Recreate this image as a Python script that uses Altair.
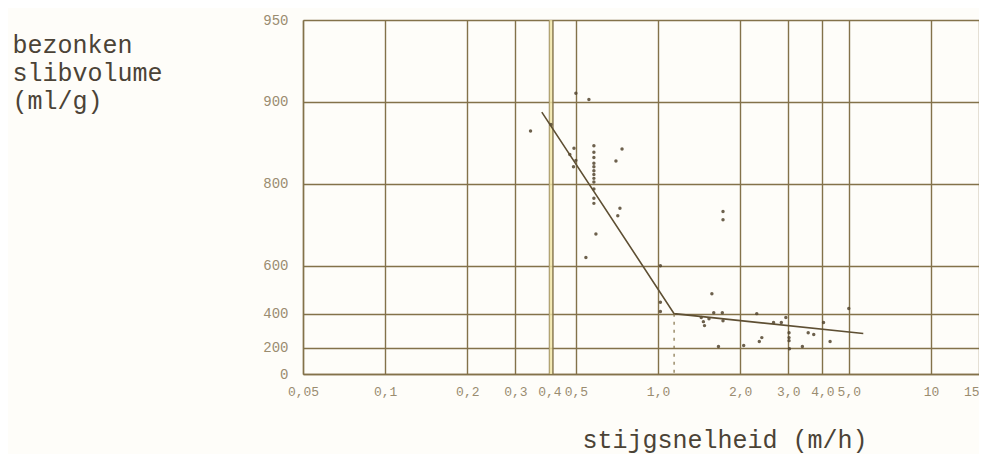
import altair as alt
import pandas as pd

# ---- data ----
x_ticks = [0.05, 0.1, 0.2, 0.3, 0.4, 0.5, 1.0, 2.0, 3.0, 4.0, 5.0, 10.0, 15.0]
x_tick_labels = ["0,05", "0,1", "0,2", "0,3", "0,4", "0,5", "1,0", "2,0", "3,0",
                 "4,0", "5,0", "10", "15"]
y_ticks = [0, 200, 400, 600, 800, 900, 950]

pts_x = [0.50, 0.558, 0.341, 0.405, 0.492, 0.475, 0.50, 0.49,
         0.582, 0.582, 0.582, 0.582, 0.582, 0.582, 0.582, 0.582, 0.582, 0.582, 0.582, 0.582,
         0.738, 0.701, 0.725, 0.712, 0.592, 0.544,
         1.02, 1.02, 1.02, 1.575, 1.44, 1.466, 1.48, 1.537, 1.60, 1.72, 1.73, 1.665,
         2.06, 2.30, 2.35, 2.40, 2.65, 2.83, 2.94, 3.02, 3.02, 3.02, 3.03, 3.38,
         3.55, 3.72, 4.04, 4.27, 5.0, 1.73, 1.73]
pts_v = [907, 902, 872, 879, 852, 844, 836, 827,
         855, 847, 840, 832, 827, 821, 815, 809, 803, 791, 774, 764,
         851, 835, 754, 738, 694, 627,
         600, 455, 411, 493, 380, 358, 336, 374, 405, 405, 363, 207,
         214, 400, 240, 265, 353, 353, 380, 295, 265, 246, 193, 207,
         295, 284, 353, 240, 426, 747, 729]

fit_x = [0.375, 1.145, 5.65]
fit_v = [891, 400, 290]

break_x = [1.145]
break_v_top = [400]
break_v_bottom = [0]

double_line_x = [0.4, 0.412]

# ---- styling ----
INK = "#83724a"
TXT = "#4b4336"
LBL = "#9a8c70"
W, H = 676, 354

label_expr = " : ".join(
    f"datum.value == {v} ? '{l}'" for v, l in zip(x_ticks, x_tick_labels)
) + " : ''"

x_scale = alt.Scale(type="log", domain=[0.05, 15], nice=False)
y_scale = alt.Scale(type="log", domain=[50, 1000], nice=False, reverse=True, zero=False)

x_axis = alt.Axis(
    values=x_ticks, labelExpr=label_expr, grid=True, gridColor=INK, gridWidth=1.4,
    gridOpacity=1, ticks=False, domain=True, domainColor=INK, domainWidth=1.4,
    labelFont="Liberation Mono", labelFontSize=13, labelColor=LBL, labelPadding=11,
    labelFlush=False, labelOverlap=False,
    labelAlign={"condition": {"test": "datum.value >= 15", "value": "right"},
                "value": "center"},
    title="stijgsnelheid (m/h)", titleFont="Liberation Mono", titleFontSize=25,
    titleFontWeight="normal", titleColor=TXT, titleAlign="left", titleAnchor="start",
    titleBaseline="alphabetic", titleX=279, titleY=73,
)
y_axis = alt.Axis(
    values=[1000 - v for v in y_ticks], labelExpr="'' + (1000 - datum.value)",
    grid=True, gridColor=INK, gridWidth=1.4, gridOpacity=1, ticks=False,
    domain=True, domainColor=INK, domainWidth=1.4,
    labelFont="Liberation Mono", labelFontSize=14, labelColor=LBL, labelPadding=15,
    labelFlush=False, labelOverlap=False,
    title=["bezonken", "slibvolume", "(ml/g)"], titleFont="Liberation Mono",
    titleFontSize=25, titleFontWeight="normal", titleColor=TXT, titleAngle=0,
    titleAlign="left", titleBaseline="alphabetic", titleX=-291, titleY=32,
    titleLineHeight=28,
)

xe = alt.X("x:Q", scale=x_scale, axis=x_axis)
ye = alt.Y("yp:Q", scale=y_scale, axis=y_axis)

pts_df = pd.DataFrame({"x": pts_x, "v": pts_v})
fit_df = pd.DataFrame({"x": fit_x, "v": fit_v})
brk_df = pd.DataFrame({"x": break_x, "vt": break_v_top, "vb": break_v_bottom})
dbl_df = pd.DataFrame({"x": [double_line_x[0]], "x2": [double_line_x[1]]})

band = alt.Chart(dbl_df).mark_rect(color="#f1e6a6", opacity=0.8).encode(
    x=xe, x2="x2:Q", y=alt.value(0), y2=alt.value(H)
)
dbl = alt.Chart(dbl_df).mark_rule(color=INK, strokeWidth=1.4).encode(
    x=alt.X("x2:Q", scale=x_scale, axis=x_axis), y=alt.value(0), y2=alt.value(H)
)

points = alt.Chart(pts_df).transform_calculate(yp="1000 - datum.v").mark_circle(
    size=12, color="#54452f", opacity=0.85
).encode(x=xe, y=ye)

fit = alt.Chart(fit_df).transform_calculate(yp="1000 - datum.v").mark_line(
    color="#5e4f33", strokeWidth=1.6
).encode(x=xe, y=ye)

brk = alt.Chart(brk_df).transform_calculate(
    yp="1000 - datum.vt", yp2="1000 - datum.vb"
).mark_rule(color=INK, strokeWidth=1.2, strokeDash=[3, 5]).encode(
    x=xe, y=ye, y2="yp2:Q"
)

chart = alt.layer(band, dbl, points, fit, brk).properties(
    width=W, height=H,
    autosize=alt.AutoSizeParams(type="none"),
    padding={"left": 295, "top": 12, "right": 0, "bottom": 80},
    background="#fefdf9",
).configure_view(stroke=None)

chart.save("out.html", embed_options={"renderer": "svg", "actions": False})
